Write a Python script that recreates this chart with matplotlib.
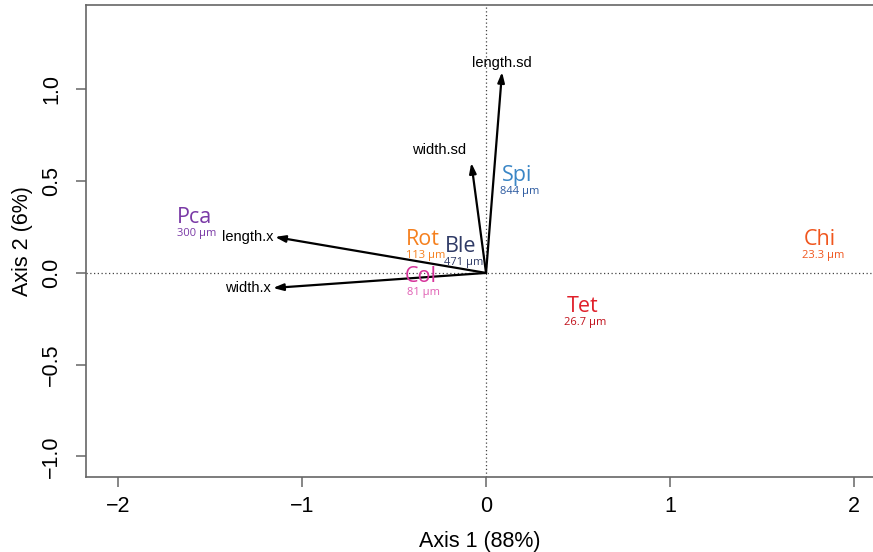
import matplotlib
matplotlib.use("Agg")
import matplotlib.pyplot as plt

# variable arrows (axis 1, axis 2)
var_names = ["length.sd", "width.sd", "length.x", "width.x"]
var_x = [0.087, -0.080, -1.147, -1.158]
var_y = [1.095, 0.600, 0.196, -0.082]

# group centroids
grp_names = ["Pca", "Rot", "Ble", "Col", "Spi", "Tet", "Chi"]
grp_sizes = ["300 µm", "113 µm", "471 µm", "81 µm", "844 µm", "26.7 µm", "23.3 µm"]
grp_x = [-1.587, -0.342, -0.136, -0.353, 0.168, 0.522, 1.815]
grp_y = [0.300, 0.180, 0.142, -0.022, 0.529, -0.185, 0.180]
grp_col = ["#7a3aa6", "#f5801e", "#2f3a66", "#d6339a", "#3a86c6", "#e0202a", "#f0561e"]
size_col = ["#7a3aa6", "#f5801e", "#2f3a66", "#e060b4", "#2c5aa0", "#c0101a", "#f0561e"]

plt.rcParams["font.family"] = ["Liberation Sans", "DejaVu Sans"]

fig = plt.figure(figsize=(8.73, 5.52), dpi=100)
ax = fig.add_axes([86 / 873, 1 - 477 / 552, 1 - 86 / 873, 472 / 552])

ax.set_xlim(-2.174, 2.103)
ax.set_ylim(-1.112, 1.46)

ax.axhline(0, color="#444444", lw=0.9, ls=(0, (1, 2)))
ax.axvline(0, color="#444444", lw=0.9, ls=(0, (1, 2)))

label_off = {"length.sd": (0.0, 0.05, "center"),
             "width.sd": (-0.03, 0.07, "right"),
             "length.x": (-0.01, 0.0, "right"),
             "width.x": (-0.01, 0.0, "right")}
for n, x, y in zip(var_names, var_x, var_y):
    ax.annotate("", xy=(x, y), xytext=(0, 0),
                arrowprops=dict(arrowstyle="-|>,head_length=0.6,head_width=0.2",
                                color="black", lw=1.6, shrinkA=0, shrinkB=0))
    dx, dy, ha = label_off[n]
    ax.text(x + dx, y + dy, n, ha=ha, va="center", fontsize=10.5, color="black")

for n, s, x, y, c, sc in zip(grp_names, grp_sizes, grp_x, grp_y, grp_col, size_col):
    ax.text(x, y, n, ha="center", va="center", fontsize=15.5, color=c,
            family=["Open Sans", "DejaVu Sans"])
    ax.text(x + 0.015, y - 0.085, s, ha="center", va="center", fontsize=8, color=sc,
            family=["Open Sans", "DejaVu Sans"])

for sp in ["left", "bottom", "top"]:
    ax.spines[sp].set_color("#666666")
    ax.spines[sp].set_linewidth(1.2)
ax.spines["right"].set_visible(False)

ax.set_xticks([-2, -1, 0, 1, 2])
ax.set_xticklabels(["\u22122", "\u22121", "0", "1", "2"])
ax.set_yticks([-1.0, -0.5, 0.0, 0.5, 1.0])
ax.set_yticklabels(["\u22121.0", "\u22120.5", "0.0", "0.5", "1.0"], rotation=90, va="center")
ax.tick_params(direction="out", length=7, width=1.1, color="#666666", labelsize=15.5)
ax.tick_params(axis="x", pad=7)
ax.tick_params(axis="y", pad=10)
ax.set_xlabel("Axis 1 (88%)", fontsize=15.5, labelpad=10)
ax.set_ylabel("Axis 2 (6%)", fontsize=15.5, labelpad=6)

fig.savefig("out.png", dpi=100)
